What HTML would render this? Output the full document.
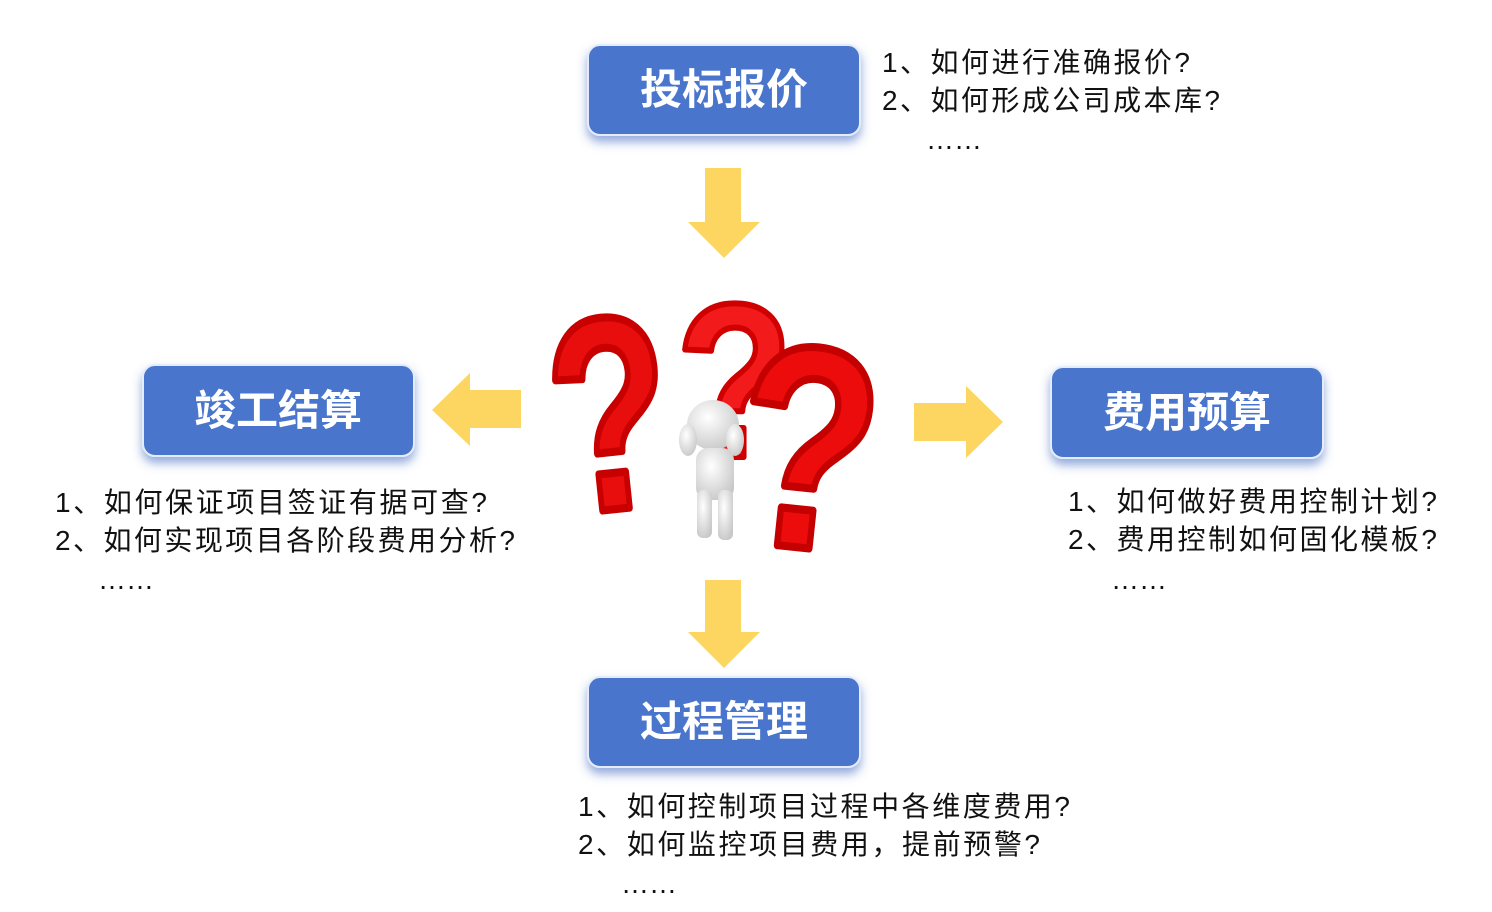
<!DOCTYPE html>
<html><head><meta charset="utf-8"><style>
html,body{margin:0;padding:0;background:#fff;}
svg{display:block;}
text{font-family:"Liberation Sans","Noto Sans CJK SC",sans-serif;}
</style></head><body>
<svg width="1492" height="912" viewBox="0 0 1492 912" xmlns="http://www.w3.org/2000/svg">
<defs>
<filter id="sh" x="-20%" y="-20%" width="140%" height="160%">
<feGaussianBlur in="SourceAlpha" stdDeviation="5"/><feOffset dy="6" result="b"/>
<feFlood flood-color="#3a64c0" flood-opacity="0.55"/><feComposite in2="b" operator="in"/>
<feMerge><feMergeNode/><feMergeNode in="SourceGraphic"/></feMerge></filter>
<radialGradient id="wg" cx="40%" cy="35%" r="70%"><stop offset="0" stop-color="#fff"/><stop offset="1" stop-color="#c8c8c8"/></radialGradient>
</defs>
<g filter="url(#sh)" fill="#4a76cc" stroke="#e4ecfa" stroke-width="2">
<rect x="588" y="45" width="272" height="90" rx="12"/>
<rect x="143" y="365" width="271" height="91" rx="12"/>
<rect x="1051" y="367" width="272" height="91" rx="12"/>
<rect x="588" y="677" width="272" height="90" rx="12"/>
</g>
<g fill="#fff" font-weight="bold" font-size="42" text-anchor="middle">
<text x="724" y="104">投标报价</text>
<text x="278" y="425">竣工结算</text>
<text x="1187" y="427">费用预算</text>
<text x="724" y="736">过程管理</text>
</g>
<g fill="#fcd661">
<polygon points="705,168 741,168 741,222 760,222 724,258 688,222 705,222"/>
<polygon points="705,580 741,580 741,632 760,632 724,668 688,632 705,632"/>
<polygon points="521,390 470,390 470,373 432,410 470,446 470,428 521,428"/>
<polygon points="914,403 966,403 966,386 1003,422 966,458 966,441 914,441"/>
</g>
<!-- question marks -->
<g font-family="Liberation Sans,sans-serif" font-weight="bold" stroke-linejoin="round">
<text x="0" y="0" font-size="220" fill="#f21a1a" stroke="#d00000" stroke-width="6" transform="translate(676,457) scale(0.87,1)">?</text>
<text x="0" y="0" font-size="275" fill="#e80e0e" stroke="#c80000" stroke-width="8" transform="translate(560,515) rotate(-6) scale(0.72,1)">?</text>
<text x="0" y="0" font-size="288" fill="#ec0c0c" stroke="#c40000" stroke-width="8" transform="translate(728,540) rotate(6) scale(0.8,1)">?</text>
</g>
<!-- figure -->
<g fill="url(#wg)">
<ellipse cx="713" cy="425" rx="26" ry="25"/>
<ellipse cx="688" cy="440" rx="9" ry="16"/>
<ellipse cx="735" cy="440" rx="9" ry="16"/>
<rect x="696" y="448" width="38" height="52" rx="12"/>
<rect x="697" y="490" width="15" height="48" rx="6"/>
<rect x="718" y="490" width="15" height="50" rx="6"/>
</g>
<g fill="#111" font-size="28">
<text x="882" y="72" textLength="308" lengthAdjust="spacing">1、如何进行准确报价?</text>
<text x="882" y="110" textLength="338" lengthAdjust="spacing">2、如何形成公司成本库?</text>
<text x="926" y="149">……</text>
<text x="55" y="512" textLength="432" lengthAdjust="spacing">1、如何保证项目签证有据可查?</text>
<text x="55" y="550" textLength="460" lengthAdjust="spacing">2、如何实现项目各阶段费用分析?</text>
<text x="98" y="589">……</text>
<text x="1068" y="511" textLength="369" lengthAdjust="spacing">1、如何做好费用控制计划?</text>
<text x="1068" y="549" textLength="369" lengthAdjust="spacing">2、费用控制如何固化模板?</text>
<text x="1111" y="589">……</text>
<text x="578" y="816" textLength="492" lengthAdjust="spacing">1、如何控制项目过程中各维度费用?</text>
<text x="578" y="854" textLength="462" lengthAdjust="spacing">2、如何监控项目费用，提前预警?</text>
<text x="621" y="893">……</text>
</g>
</svg>
</body></html>
